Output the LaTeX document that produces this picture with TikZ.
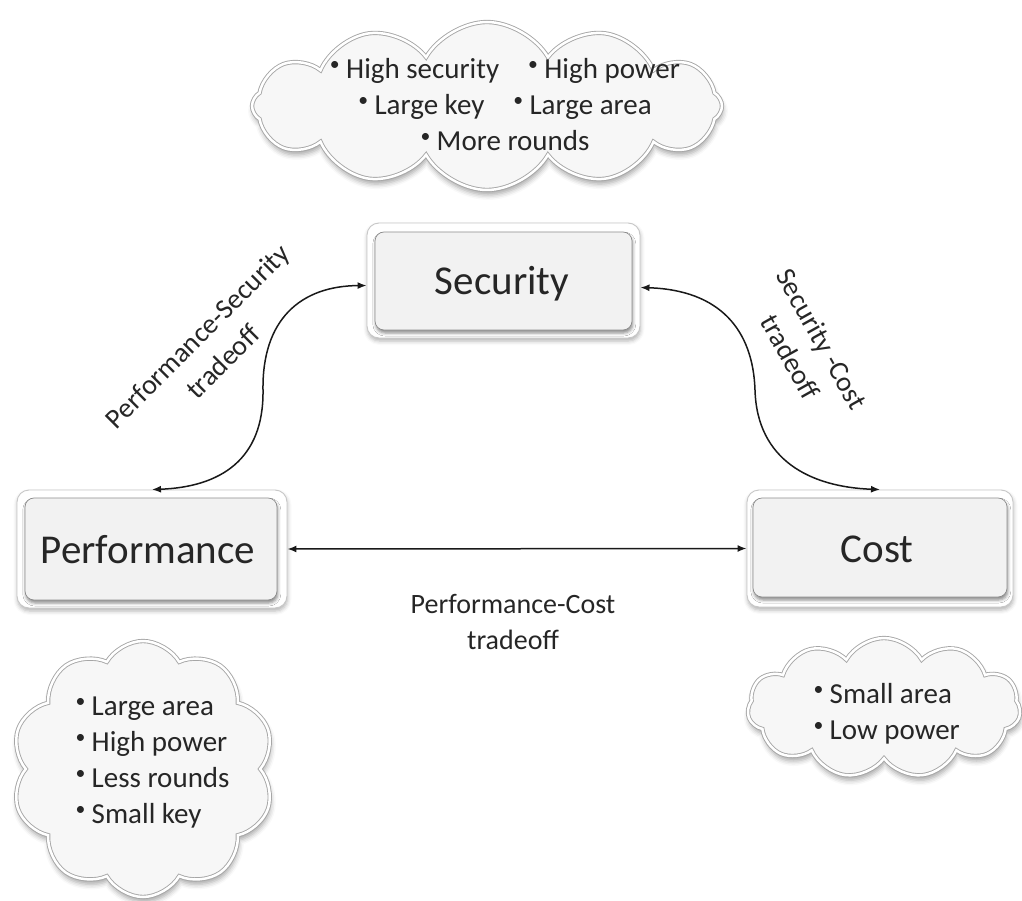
\documentclass[tikz,border=0pt]{standalone}
\usepackage{fontspec}
\setmainfont{Carlito}
\usepackage{graphicx}
\usetikzlibrary{arrows.meta,shapes.symbols,shadows.blur}
\newcommand\bul{\raisebox{0.3em}{\scalebox{0.68}{\textbullet}}\hspace{0.22em}}
\begin{document}
\begin{tikzpicture}[x=1pt,y=-1pt,
  outerbox/.style={rectangle, rounded corners=12pt, fill=white, draw=black!22, line width=0.9pt,
    blur shadow={shadow xshift=0.5pt, shadow yshift=-3pt, shadow blur radius=4pt, shadow opacity=30}},
  innerbox/.style={rectangle, rounded corners=9pt, fill=black!5, draw=black!45, line width=0.7pt,
    blur shadow={shadow xshift=0.8pt, shadow yshift=-3pt, shadow blur radius=3pt, shadow opacity=45}},
  bigtxt/.style={font=\fontsize{41}{48}\selectfont, text=black!85},
  lbl/.style={font=\fontsize{28}{36}\selectfont, align=center, text=black!85},
  cloudtxt/.style={font=\fontsize{29}{36}\selectfont, text=black!85},
  cloudbox/.style={cloud, cloud puffs=#1, cloud puff arc=120, cloud ignores aspect, inner sep=0pt,
    fill=black!3, draw=black!35, line width=0.9pt, double=white, double distance=2.5pt,
    blur shadow={shadow xshift=1pt, shadow yshift=-5pt, shadow blur radius=5pt, shadow opacity=35}},
  arr/.style={{Latex[length=9pt,width=7pt]}-{Latex[length=9pt,width=7pt]}, line width=1.5pt, black!90},
]
\useasboundingbox (0,0) rectangle (1022,901);

% clouds
\node[cloudbox=12, minimum width=470pt, minimum height=168pt] (topcloud) at (487,106) {};
\node[cloudtxt, align=center] (toptxt) at (505,105)
  {\bul High security\hspace{1em}\bul High power\\ \bul Large key\hspace{1em}\bul Large area\\ \bul More rounds};

\node[cloudbox=10, minimum width=263pt, minimum height=256pt] (perfcloud) at (143,769) {};
\node[cloudtxt, align=left, anchor=west] (perftxt) at (72,763)
  {\bul Large area\\ \bul High power\\ \bul Less rounds\\ \bul Small key};

\node[cloudbox=11, minimum width=273pt, minimum height=140pt] (costcloud) at (884,708) {};
\node[cloudtxt, align=left, anchor=west] (costtxt) at (810,714)
  {\bul Small area\\ \bul Low power};

% boxes
\node[outerbox, minimum width=273pt, minimum height=115pt] (sec) at (503.5,280.5) {};
\node[innerbox, minimum width=257pt, minimum height=98pt] (secin) at (503.5,281) {};
\node[bigtxt] (sect) at (502,284) {Security};

\node[outerbox, minimum width=270pt, minimum height=118pt] (perf) at (152,549) {};
\node[innerbox, minimum width=252pt, minimum height=102pt] (perfin) at (151,549) {};
\node[bigtxt] (perft) at (148,550) {Performance};

\node[outerbox, minimum width=266pt, minimum height=117pt] (cost) at (880,548.5) {};
\node[innerbox, minimum width=254pt, minimum height=99pt] (costin) at (880,547.5) {};
\node[bigtxt] (costt) at (877,549) {Cost};

% connectors
\draw[arr] (perf.east) -- (cost.west);
\coordinate (secW) at ([yshift=-5pt]sec.west);
\draw[arr] (secW) .. controls (300,286) and (262,320) .. (263,390)
  .. controls (264,460) and (220,487) .. (perf.north);
\coordinate (secE) at ([yshift=-7pt]sec.east);
\draw[arr] (secE) .. controls (720,290) and (753,330) .. (755,390)
  .. controls (757,460) and (810,487) .. (cost.north);

% labels
\node[lbl, rotate=45] (pslbl) at (210,349) {Performance-Security\\tradeoff};
\node[lbl, rotate=-60.7] (sclbl) at (806,348) {Security -Cost\\tradeoff};
\node[lbl] (pclbl) at (513,622) {Performance-Cost\\tradeoff};
\end{tikzpicture}
\end{document}
